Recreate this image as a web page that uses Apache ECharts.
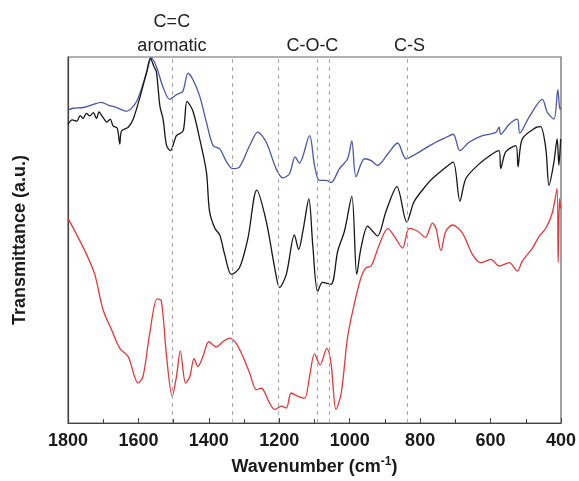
<!DOCTYPE html>
<html>
<head>
<meta charset="utf-8">
<script src="https://cdn.jsdelivr.net/npm/echarts@6/dist/echarts.min.js"></script>
<style>html,body{margin:0;padding:0;background:#fff;}#c{width:579px;height:481px;}</style>
</head>
<body>
<div id="c"></div>
<script>
// Wavenumber (cm-1), transmittance (a.u.) pairs
const blueCurve = [[1800,85.5],[1785,86.0],[1757,86.2],[1730,87.0],[1705,87.6],[1685,86.8],[1662,86.2],[1634,85.2],[1605,87.9],[1577,95.7],[1563,99.7],[1549,97.4],[1531,92],[1511,88.4],[1492,89.7],[1474,90.6],[1459,95.6],[1445,93.8],[1426,89.3],[1407,82.2],[1388,75.8],[1369,74.9],[1350,71.4],[1332,69.5],[1313,70],[1284,75.8],[1261,79.5],[1237,76.7],[1209,69.5],[1190,67],[1171,68.1],[1155,72.7],[1143,71],[1114,78.5],[1100,70.4],[1086,66.3],[1067,66.3],[1053,65.7],[1029,69.5],[1006,72.2],[994,77.1],[982,67.3],[958,72.2],[939,71.7],[921,70.4],[892,73.5],[864,76.5],[840,72.2],[812,73.5],[765,76.2],[727,78],[706,78.9],[687,74.4],[661,76.7],[623,78.5],[585,79.4],[576,80.8],[571,78.9],[547,81.6],[524,83],[517,79.2],[491,83.5],[453,88.4],[439,84.9],[420,83],[409,91.1],[403,85.7],[400,86.2]];
const blackCurve = [[1800,81.6],[1788,82.8],[1775,82.5],[1765,84.0],[1757,83.2],[1748,84.6],[1738,83.9],[1728,84.8],[1719,83.2],[1712,85.0],[1705,84.1],[1697,83.0],[1690,82.2],[1680,83.0],[1672,81.2],[1660,80.5],[1653,76.2],[1648,79.8],[1629,80.8],[1615,83],[1596,88.9],[1577,95.7],[1566,99.7],[1556,97.4],[1549,96],[1539,86.6],[1530,83],[1520,75.8],[1509,74.4],[1492,78.5],[1473,79.8],[1462,87.9],[1445,85.2],[1426,77.6],[1407,68.6],[1398,57.8],[1383,53.2],[1369,51.4],[1355,46],[1336,40.6],[1313,42.4],[1289,50.5],[1264,63.6],[1237,55.1],[1213,42.4],[1199,37],[1180,40.6],[1157,51.4],[1145,47.4],[1133,52.4],[1116,61.2],[1105,48.7],[1091,35.9],[1077,38.4],[1053,37.9],[1034,47],[1015,52.4],[994,61.9],[980,40.6],[968,47.8],[949,53.8],[935,52.4],[921,51.1],[897,57.8],[866,64.6],[838,54.9],[817,60.5],[783,64.9],[765,66.8],[727,69.9],[706,71.3],[687,60.6],[670,66.8],[632,70.8],[595,73.5],[576,74.4],[571,69.5],[557,74.1],[528,75.8],[522,70],[510,77.6],[472,80.7],[458,81],[443,74.9],[434,64.9],[420,71.3],[411,77.6],[406,70.4],[401,77.6]];
const redCurve = [[1800,55.9],[1775,51.4],[1747,46],[1724,40.6],[1700,30.8],[1676,25.4],[1653,20.4],[1629,18.1],[1601,10.9],[1587,12.7],[1568,24.4],[1547,33.9],[1535,33.4],[1520,18.1],[1504,7.3],[1492,12.7],[1481,19.7],[1466,10.9],[1454,12.7],[1442,17.6],[1431,15.4],[1417,18.1],[1400,22.2],[1379,20.8],[1360,22.2],[1341,23.2],[1322,21.7],[1303,18.1],[1284,13.6],[1265,9.1],[1251,9.5],[1228,5.5],[1213,3.7],[1194,4.6],[1180,4.1],[1166,8.2],[1147,7.3],[1128,6.8],[1114,12.7],[1100,18.9],[1084,15.9],[1065,20.4],[1053,16.3],[1039,3.7],[1024,8.2],[1006,23.5],[987,32.5],[968,39.7],[954,42.4],[939,42.9],[916,48.7],[892,53.1],[873,51],[850,47.8],[831,53.2],[807,52.4],[785,50.7],[765,54.6],[755,53.2],[741,47.1],[727,52.4],[708,54.1],[680,51.9],[651,46],[628,43.8],[599,44.7],[576,42.9],[547,43.8],[524,41.5],[510,44.2],[481,47.8],[462,51],[443,53.2],[425,57.3],[411,64.1],[408,43.8],[404,61.4],[401,58.6]];
// Band positions marked by dashed lines (cm-1)
const bandLines = [1503, 1334, 1202, 1091, 1057, 836];
const bandLabels = [
  {text: 'C=C', wn: 1505, row: 0},
  {text: 'aromatic', wn: 1505, row: 1},
  {text: 'C-O-C', wn: 1106, row: 1},
  {text: 'C-S', wn: 830, row: 1}
];
const xTicks = [1800, 1600, 1400, 1200, 1000, 800, 600, 400];

const chart = echarts.init(document.getElementById('c'), null, {renderer: 'canvas'});
const FONT = '"Liberation Sans", Arial, sans-serif';
const grid = {left: 68, right: 17, top: 57, bottom: 54};

function lineSeries(name, data, color) {
  return {
    name, type: 'line', data, showSymbol: false, smooth: 0.3, z: 3,
    lineStyle: {color, width: 1.3}, itemStyle: {color}, animation: false
  };
}

const option = {
  animation: false,
  backgroundColor: '#fff',
  grid: Object.assign({show: true, borderColor: '#666', borderWidth: 1.2, backgroundColor: 'transparent'}, grid),
  xAxis: {
    type: 'value', inverse: true, min: 400, max: 1800, interval: 200,
    axisLine: {show: true, lineStyle: {color: '#444', width: 1.2}},
    axisTick: {show: true, inside: true, length: 5, lineStyle: {color: '#444'}},
    minorTick: {show: true, splitNumber: 2, length: 4, lineStyle: {color: '#444'}},
    splitLine: {show: false},
    axisLabel: {color: '#1a1a1a', fontSize: 18, fontWeight: 'bold', fontFamily: FONT, margin: 9,
      formatter: v => xTicks.includes(v) ? String(v) : ''},
    name: '{a|Wavenumber (cm}{s|-1}{a|)}',
    nameLocation: 'middle', nameGap: 33,
    nameTextStyle: {rich: {
      a: {fontSize: 18, fontWeight: 'bold', fontFamily: FONT, color: '#1a1a1a', verticalAlign: 'bottom', lineHeight: 20},
      s: {fontSize: 12, fontWeight: 'bold', fontFamily: FONT, color: '#1a1a1a', verticalAlign: 'top', lineHeight: 20, padding: [0, 0, 8, 0]}
    }}
  },
  yAxis: {
    type: 'value', min: 0, max: 100,
    axisLine: {show: true, lineStyle: {color: '#444', width: 1.2}},
    axisTick: {show: false}, axisLabel: {show: false}, splitLine: {show: false},
    name: 'Transmittance (a.u.)', nameLocation: 'middle', nameGap: 39,
    nameTextStyle: {fontSize: 18, fontWeight: 'bold', fontFamily: FONT, color: '#1a1a1a'}
  },
  series: [
    {
      name: 'bands', type: 'line', data: [], z: 1, silent: true,
      markLine: {
        silent: true, symbol: ['none', 'none'], animation: false,
        label: {show: false},
        lineStyle: {type: [4, 4], color: '#a8a8a8', width: 1},
        data: bandLines.map(v => ({xAxis: v}))
      }
    },
    lineSeries('blue', blueCurve, '#4b57a3'),
    lineSeries('black', blackCurve, '#161616'),
    lineSeries('red', redCurve, '#e0393b')
  ]
};
chart.setOption(option);

// Band annotation labels above the plot, positioned from the x scale
const rowY = [22, 46];
chart.setOption({
  graphic: bandLabels.map(b => ({
    type: 'text',
    x: chart.convertToPixel({xAxisIndex: 0}, b.wn),
    y: rowY[b.row],
    style: {text: b.text, textAlign: 'center', textVerticalAlign: 'middle',
      font: '18px ' + FONT, fill: '#222'}
  }))
});
</script>
</body>
</html>
